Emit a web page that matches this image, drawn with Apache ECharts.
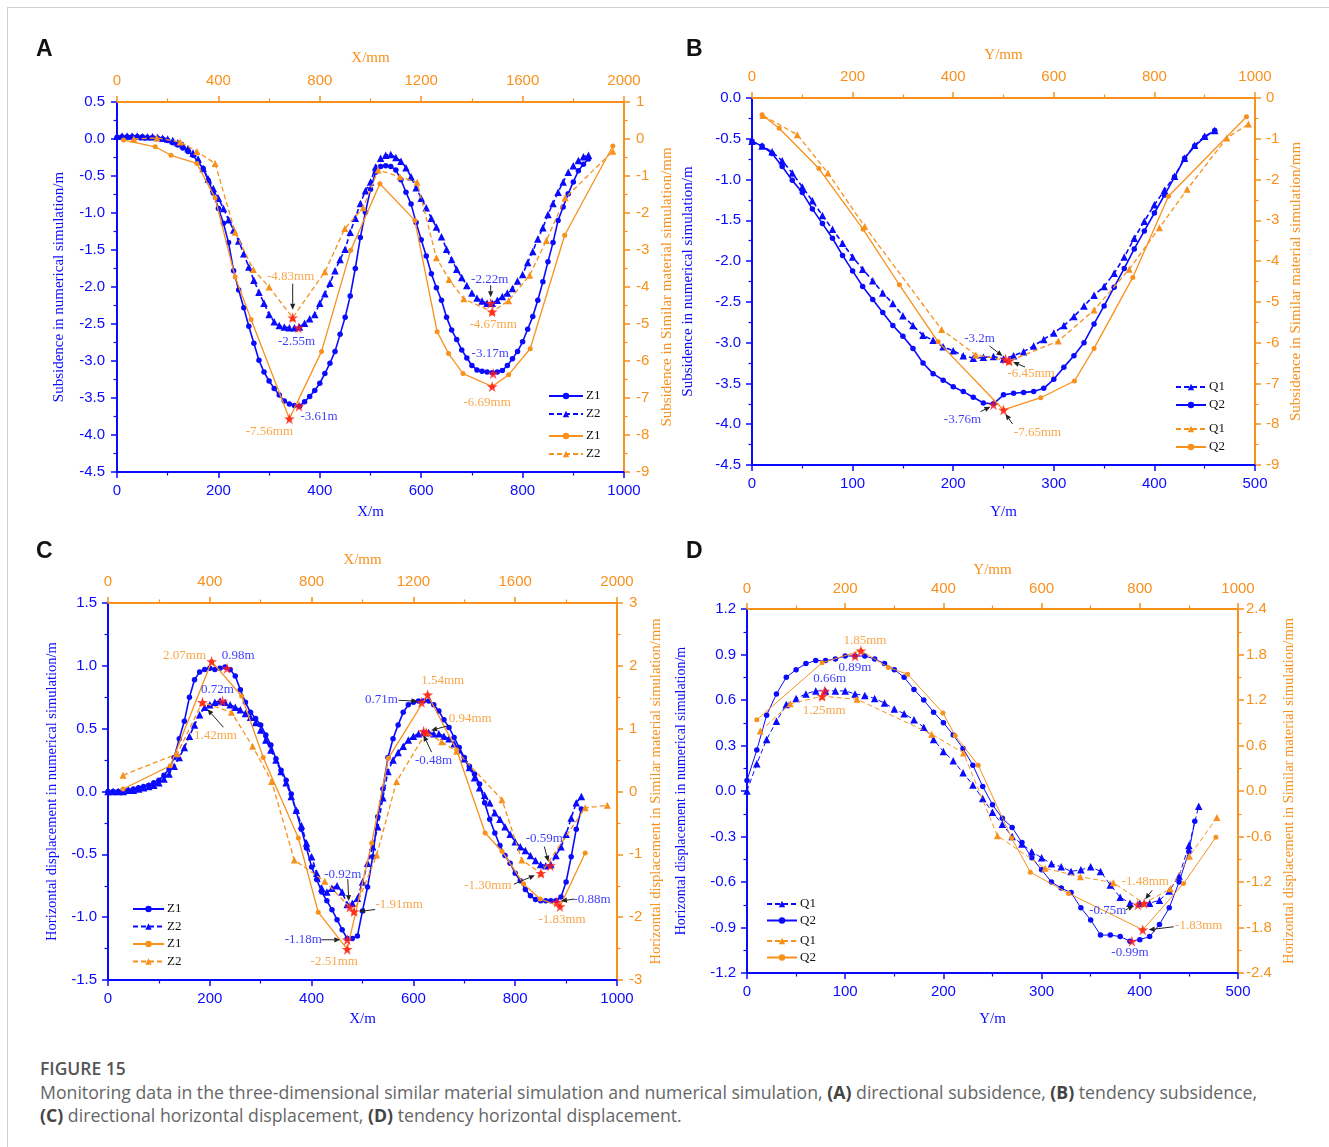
<!DOCTYPE html>
<html><head><meta charset="utf-8">
<script src="https://cdn.jsdelivr.net/npm/echarts@6/dist/echarts.min.js"></script>
<style>
html,body{margin:0;padding:0;background:#fff;}
#frame{position:absolute;left:7px;top:7px;width:1322px;height:1140px;border-top:1px solid #cfcfcf;border-left:1px solid #cfcfcf;z-index:5;pointer-events:none;}
#chart{position:absolute;left:0;top:0;width:1329px;height:1050px;}
#cap{position:absolute;left:40px;top:1057px;font-family:'Open Sans',sans-serif;color:#666;font-size:17.7px;line-height:23px;letter-spacing:0;}
#cap .t{font-weight:600;color:#555;font-size:17.5px;margin-bottom:1px;}
#cap b{font-weight:700;color:#444;}
</style></head><body>
<div id="frame"></div>
<div id="chart"></div>
<div id="cap"><div class="t">FIGURE 15</div>Monitoring data in the three-dimensional similar material simulation and numerical simulation, <b>(A)</b> directional subsidence, <b>(B)</b> tendency subsidence,<br><b>(C)</b> directional horizontal displacement, <b>(D)</b> tendency horizontal displacement.</div>
<script>
// ---------------- DATA ----------------
// Panel A: directional subsidence
const A_num_x = [0,10,20,30,40,50,60,70,80,90,100,110,120,130,140,150,160,170,180,190,200,210,220,230,240,250,260,270,280,290,300,310,320,330,340,350,360,370,380,390,400,410,420,430,440,450,460,470,480,490,500,510,520,530,540,550,560,570,580,590,600,610,620,630,640,650,660,670,680,690,700,710,720,730,740,750,760,770,780,790,800,810,820,830,840,850,860,870,880,890,900,910,920,930];
const A_Z1_num = [0.02,0.03,0.03,0.03,0.03,0.03,0.02,0.02,0.01,0.00,
-0.02,-0.05,-0.08,-0.12,-0.17,-0.22,-0.31,-0.40,-0.56,-0.73,
-0.94,-1.14,-1.40,-1.78,-2.04,-2.28,-2.53,-2.76,-2.99,-3.15,
-3.27,-3.37,-3.46,-3.54,-3.58,-3.60,-3.61,-3.55,-3.48,-3.40,
-3.30,-3.17,-3.03,-2.87,-2.64,-2.41,-2.12,-1.75,-1.33,-0.99,
-0.68,-0.45,-0.37,-0.36,-0.37,-0.42,-0.55,-0.72,-0.88,-1.13,
-1.36,-1.58,-1.82,-2.01,-2.18,-2.41,-2.58,-2.71,-2.85,-2.96,
-3.06,-3.12,-3.14,-3.15,-3.16,-3.15,-3.13,-3.06,-2.97,-2.87,
-2.74,-2.57,-2.40,-2.18,-1.93,-1.66,-1.40,-1.10,-0.92,-0.74,
-0.58,-0.43,-0.34,-0.27];
const A_Z2_num = [0.04,0.04,0.04,0.04,0.04,0.03,0.03,0.03,0.02,0.01,
0.00,-0.02,-0.05,-0.08,-0.13,-0.19,-0.27,-0.40,-0.54,-0.67,
-0.80,-0.94,-1.09,-1.23,-1.38,-1.55,-1.73,-1.91,-2.07,-2.22,
-2.37,-2.47,-2.52,-2.54,-2.55,-2.55,-2.54,-2.49,-2.43,-2.37,
-2.22,-2.09,-1.95,-1.78,-1.63,-1.49,-1.26,-1.07,-0.87,-0.70,
-0.58,-0.38,-0.26,-0.22,-0.21,-0.25,-0.30,-0.39,-0.51,-0.66,
-0.80,-0.93,-1.07,-1.19,-1.32,-1.49,-1.63,-1.76,-1.87,-1.98,
-2.08,-2.15,-2.19,-2.22,-2.22,-2.18,-2.13,-2.08,-2.02,-1.92,
-1.83,-1.67,-1.52,-1.35,-1.20,-1.02,-0.87,-0.72,-0.58,-0.45,
-0.36,-0.29,-0.24,-0.22];
const A_Z1_sim_x = [26,151,213,315,387,466,529,680,807,922,1037,1175,1263,1308,1365,1480,1545,1630,1766,1956];
const A_Z1_sim   = [-0.03,-0.21,-0.44,-0.66,-1.59,-3.73,-4.88,-7.56,-5.74,-3.01,-1.21,-2.20,-5.21,-5.80,-6.34,-6.69,-6.37,-5.67,-2.60,-0.19];
const A_Z2_sim_x = [66,157,249,315,387,466,538,600,693,820,899,971,1030,1116,1184,1260,1310,1368,1480,1545,1628,1694,1768,1956];
const A_Z2_sim   = [0.00,0.03,-0.08,-0.34,-0.66,-2.52,-3.53,-4.00,-4.83,-3.59,-2.42,-1.86,-0.84,-1.02,-1.17,-3.21,-3.80,-4.32,-4.67,-4.37,-3.68,-2.74,-1.59,-0.33];
const A_star_num = [[359,-3.61],[358,-2.55],[742,-3.17],[737,-2.22]];
const A_star_num_text = ['-3.61m','-2.55m','-3.17m','-2.22m'];
const A_star_sim = [[680,-7.56],[693,-4.83],[1480,-6.69],[1480,-4.67]];
const A_star_sim_text = ['-7.56mm','-4.83mm','-6.69mm','-4.67mm'];

// Panel B: tendency subsidence
const B_num_x = [0,10,20,30,40,50,60,70,80,90,100,110,120,130,140,150,160,170,180,190,200,210,220,230,240,250,260,270,280,290,300,310,320,330,340,350,360,370,380,390,400,410,420,430,440,450,460];
const B_Q1_num = [-0.53,-0.59,-0.66,-0.77,-0.92,-1.09,-1.26,-1.44,-1.61,-1.78,
-1.95,-2.10,-2.24,-2.39,-2.52,-2.67,-2.79,-2.91,-2.97,-3.05,
-3.10,-3.16,-3.19,-3.18,-3.17,-3.20,-3.16,-3.11,-3.04,-2.96,
-2.88,-2.79,-2.68,-2.55,-2.42,-2.31,-2.15,-1.95,-1.72,-1.51,
-1.31,-1.13,-0.96,-0.74,-0.58,-0.47,-0.40];
const B_Q2_num = [-0.53,-0.59,-0.68,-0.84,-1.01,-1.16,-1.36,-1.54,-1.72,-1.93,
-2.12,-2.31,-2.47,-2.63,-2.79,-2.92,-3.07,-3.25,-3.38,-3.46,
-3.54,-3.60,-3.67,-3.74,-3.75,-3.64,-3.62,-3.61,-3.60,-3.56,
-3.45,-3.30,-3.16,-3.00,-2.77,-2.55,-2.32,-2.09,-1.85,-1.63,
-1.41,-1.19,-0.97,-0.74,-0.59,-0.48,-0.40];
const B_Q1_sim_x = [22,90,151,224,377,445,511,609,680,750,810,865,944,987];
const B_Q1_sim   = [-0.43,-0.90,-1.84,-3.15,-5.68,-6.30,-6.45,-5.96,-5.20,-4.20,-3.18,-2.24,-0.98,-0.64];
const B_Q2_sim_x = [20,54,133,221,293,370,500,574,641,680,757,828,983];
const B_Q2_sim   = [-0.41,-0.74,-1.73,-3.22,-4.58,-5.98,-7.65,-7.35,-6.94,-6.14,-4.40,-2.41,-0.46];
const B_star_num = [[252,-3.2],[240,-3.76]];
const B_star_num_text = ['-3.2m','-3.76m'];
const B_star_sim = [[511,-6.45],[500,-7.65]];
const B_star_sim_text = ['-6.45mm','-7.65mm'];

// Panel C: directional horizontal displacement
const C_num_x = A_num_x;
const C_Z1_num = [0.00,0.00,0.00,0.01,0.01,0.02,0.03,0.04,0.05,0.07,
0.09,0.13,0.18,0.27,0.42,0.56,0.75,0.89,0.95,0.97,
0.98,0.97,0.98,0.99,0.97,0.92,0.81,0.71,0.63,0.58,
0.53,0.45,0.37,0.26,0.17,0.09,-0.02,-0.16,-0.30,-0.45,
-0.60,-0.70,-0.80,-0.87,-0.94,-1.02,-1.10,-1.17,-1.17,-1.15,
-0.95,-0.76,-0.52,-0.20,0.02,0.27,0.42,0.53,0.63,0.69,
0.71,0.72,0.72,0.72,0.69,0.64,0.57,0.51,0.43,0.35,
0.27,0.20,0.14,0.06,-0.09,-0.22,-0.33,-0.43,-0.51,-0.57,
-0.65,-0.71,-0.78,-0.83,-0.86,-0.87,-0.87,-0.87,-0.87,-0.84,
-0.72,-0.52,-0.30,-0.14];
const C_Z2_num = [0.00,0.00,0.00,0.00,0.01,0.01,0.02,0.03,0.04,0.05,
0.07,0.10,0.14,0.20,0.27,0.35,0.44,0.53,0.61,0.67,
0.69,0.71,0.72,0.71,0.69,0.67,0.65,0.62,0.59,0.55,
0.49,0.41,0.33,0.25,0.16,0.07,-0.04,-0.15,-0.27,-0.41,
-0.52,-0.65,-0.77,-0.80,-0.77,-0.75,-0.80,-0.90,-0.89,-0.85,
-0.72,-0.57,-0.44,-0.28,-0.05,0.16,0.25,0.31,0.36,0.41,
0.44,0.46,0.47,0.47,0.46,0.46,0.44,0.42,0.38,0.33,
0.26,0.19,0.11,0.03,-0.03,-0.09,-0.17,-0.22,-0.28,-0.34,
-0.40,-0.44,-0.47,-0.51,-0.55,-0.58,-0.59,-0.58,-0.51,-0.44,
-0.34,-0.21,-0.09,-0.04];
const C_Z1_sim_x = [59,245,407,525,610,748,826,940,1036,1102,1256,1370,1482,1548,1633,1698,1776,1875];
const C_Z1_sim   = [0.04,0.41,2.07,1.52,0.54,-0.74,-1.92,-2.51,-0.82,0.53,1.54,0.66,-0.66,-0.95,-1.47,-1.71,-1.83,-0.98];
const C_Z2_sim_x = [59,272,371,485,568,643,732,852,967,1056,1134,1250,1311,1370,1548,1626,1701,1875,1962];
const C_Z2_sim   = [0.26,0.60,1.42,1.26,0.72,0.16,-1.09,-1.43,-1.91,-1.01,0.16,0.94,0.79,0.64,-0.13,-1.09,-1.30,-0.26,-0.22];
const C_star_num = [[234,0.98],[225,0.72],[470,-1.18],[475,-0.92],[616,0.71],[620,0.48],[869,-0.59],[882,-0.88]];
const C_star_num_text = ['0.98m','0.72m','-1.18m','-0.92m','0.71m','-0.48m','-0.59m','-0.88m'];
const C_star_sim = [[407,2.07],[371,1.42],[940,-2.51],[967,-1.91],[1256,1.54],[1250,0.94],[1701,-1.30],[1776,-1.83]];
const C_star_sim_text = ['2.07mm','1.42mm','-2.51mm','-1.91mm','1.54mm','0.94mm','-1.30mm','-1.83mm'];

// Panel D: tendency horizontal displacement
const D_Q1_x = B_num_x;
const D_Q1_num = [0.00,0.18,0.34,0.46,0.57,0.61,0.64,0.66,0.66,0.66,
0.66,0.64,0.63,0.61,0.58,0.54,0.51,0.47,0.42,0.34,
0.26,0.20,0.12,0.04,-0.05,-0.14,-0.22,-0.30,-0.35,-0.40,
-0.44,-0.48,-0.50,-0.53,-0.52,-0.50,-0.53,-0.62,-0.70,-0.74,
-0.74,-0.74,-0.72,-0.66,-0.56,-0.36,-0.10];
const D_Q2_x = [0,10,20,30,40,50,60,70,80,90,100,110,120,130,140,150,160,170,180,190,200,210,220,230,240,250,260,270,280,290,300,310,320,330,340,350,360,370,380,390,400,410,420,430,440,450,456];
const D_Q2_num = [0.07,0.27,0.50,0.64,0.75,0.80,0.84,0.86,0.86,0.87,
0.89,0.89,0.89,0.87,0.84,0.80,0.75,0.67,0.60,0.52,
0.45,0.37,0.28,0.17,0.03,-0.09,-0.18,-0.24,-0.34,-0.44,
-0.52,-0.60,-0.64,-0.67,-0.77,-0.85,-0.95,-0.95,-0.96,-0.99,
-0.98,-0.96,-0.88,-0.77,-0.60,-0.40,-0.20];
const D_Q1_sim_x = [27,88,153,224,376,441,510,607,679,746,809,862,901,957];
const D_Q1_sim   = [0.79,1.15,1.25,1.21,0.75,0.50,-0.59,-1.02,-1.13,-1.21,-1.48,-1.29,-0.86,-0.35];
const D_Q2_sim_x = [20,153,232,288,327,399,424,471,539,577,655,806,889,955];
const D_Q2_sim   = [0.94,1.69,1.85,1.63,1.54,1.03,0.73,0.34,-0.62,-1.07,-1.35,-1.83,-1.22,-0.61];
const D_star_num = [[110,0.89],[79,0.66],[398,-0.75],[392,-0.99]];
const D_star_num_text = ['0.89m','0.66m','-0.75m','-0.99m'];
const D_star_sim = [[232,1.85],[153,1.25],[809,-1.48],[806,-1.83]];
const D_star_sim_text = ['1.85mm','1.25mm','-1.48mm','-1.83mm'];

// ---------------- STYLE / LAYOUT ----------------
const BLUE = '#0a0aff', ORANGE = '#f8901c', RED = '#ff1a1a';
const STAR = 'path://M50,0 L61,35 L98,35 L68,57 L79,91 L50,70 L21,91 L32,57 L2,35 L39,35 Z';
const SERIF = 'Liberation Serif', SANS = 'Liberation Sans';
const f1 = v => v.toFixed(1), f0 = v => String(Math.round(v));

const panels = [
  { grid:{left:117, top:102, width:507, height:370},
    xb:{min:0,max:1000,step:200,name:'X/m',gap:33,margin:11,fmt:f0},
    xt:{min:0,max:2000,step:400,name:'X/mm',gap:36,margin:14,fmt:f0},
    yl:{min:-4.5,max:0.5,step:0.5,name:'Subsidence in numerical simulation/m',gap:50,margin:12,fmt:f1,nfs:15},
    yr:{min:-9,max:1,step:1,name:'Subsidence in Similar material simulation/mm',gap:36,margin:12,fmt:f0,nfs:15},
    letter:{t:'A',x:36,y:38},
    legend:{left:548, topB:389, topO:429, w:34, gap:4} },
  { grid:{left:752, top:98, width:503, height:367},
    xb:{min:0,max:500,step:100,name:'Y/m',gap:40,margin:11,fmt:f0},
    xt:{min:0,max:1000,step:200,name:'Y/mm',gap:35,margin:14,fmt:f0},
    yl:{min:-4.5,max:0,step:0.5,name:'Subsidence in numerical simulation/m',gap:56,margin:11,fmt:f1,nfs:15},
    yr:{min:-9,max:0,step:1,name:'Subsidence in Similar material simulation/mm',gap:34,margin:11,fmt:f0,nfs:15},
    letter:{t:'B',x:686,y:38},
    legend:{left:1175, topB:380, topO:422, w:30, gap:4} },
  { grid:{left:108, top:603, width:509, height:377},
    xb:{min:0,max:1000,step:200,name:'X/m',gap:32,margin:11,fmt:f0},
    xt:{min:0,max:2000,step:400,name:'X/mm',gap:35,margin:14,fmt:f0},
    yl:{min:-1.5,max:1.5,step:0.5,name:'Horizontal displacement in numerical simulation/m',gap:48,margin:11,fmt:f1,nfs:14.5},
    yr:{min:-3,max:3,step:1,name:'Horizontal displacement in Similar material simulation/mm',gap:32,margin:12,fmt:f0,nfs:14.5},
    letter:{t:'C',x:36,y:540},
    legend:{left:132, topB:902, topO:937, w:31, gap:3.5} },
  { grid:{left:747, top:609, width:491, height:364},
    xb:{min:0,max:500,step:100,name:'Y/m',gap:39,margin:11,fmt:f0},
    xt:{min:0,max:1000,step:200,name:'Y/mm',gap:31,margin:13,fmt:f0},
    yl:{min:-1.2,max:1.2,step:0.3,name:'Horizontal displacement in numerical simulation/m',gap:59,margin:11,fmt:f1,nfs:14},
    yr:{min:-2.4,max:2.4,step:0.6,name:'Horizontal displacement in Similar material simulation/mm',gap:44,margin:8,fmt:f1,nfs:14.5},
    letter:{t:'D',x:686,y:540},
    legend:{left:766, topB:897, topO:934, w:30, gap:2.5} }
];

// label offsets / arrows (pixels relative to star) — styling only
const annStyle = {
  A_num:[{o:[20,10]},{o:[-2,14]},{o:[-3,-20]},{o:[-1,-24],a:[0,-18,0,-6]}],
  A_sim:[{o:[-20,13]},{o:[-2,-41],a:[0,-34,0,-8]},{o:[-5,16]},{o:[1,13]}],
  B_num:[{o:[-26,-20],a:[-16,-13,-3,-3]},{o:[-31,15],a:[-13,7,-3,2]}],
  B_sim:[{o:[22,13],a:[16,6,4,1]},{o:[34,23],a:[9,14,2,4]}],
  C_num:[{o:[11,-13]},{o:[-5,-11]},{o:[-44,0],a:[-26,0,-7,0]},{o:[-7,-33],a:[-2,-28,-1,-6]},
         {o:[-40,-3],a:[-23,-2,-4,-1]},{o:[10,29],a:[8,21,0,4]},{o:[-6,-27],a:[-6,-19,-2,-4]},{o:[35,-3],a:[17,-3,4,-1]}],
  C_sim:[{o:[-27,-6]},{o:[13,33],a:[21,25,5,7]},{o:[-13,12]},{o:[45,-7],a:[21,-2,5,0]},
         {o:[15,-14]},{o:[44,-14],a:[23,-7,5,-2]},{o:[-53,12],a:[-27,11,-6,2]},{o:[2,13]}],
  D_num:[{o:[0,12]},{o:[5,-12]},{o:[-30,6],a:[-12,5,-4,1]},{o:[-2,11]}],
  D_sim:[{o:[4,-10]},{o:[2,14]},{o:[1,-22],a:[8,-13,1,-4]},{o:[56,-4],a:[31,-3,6,0]}]
};

// ---------------- BUILD ----------------
const zip = (xs, ys) => xs.map((x, i) => [x, ys[i]]);
function axis(kind, pos, gi, c, color) {
  return {
    type:'value', gridIndex:gi, position:pos, min:c.min, max:c.max, interval:c.step,
    name:c.name, nameLocation:'middle', nameGap:c.gap, nameRotate: kind === 'y' ? 90 : 0,
    nameTextStyle:{color:color, fontFamily:SERIF, fontSize:c.nfs || 15},
    axisLine:{show:true, onZero:false, lineStyle:{color:color, width:2}},
    axisTick:{show:true, inside:false, length:6, lineStyle:{color:color, width:1.5}},
    minorTick:{show:true, splitNumber:2, length:3.5, lineStyle:{color:color, width:1.2}},
    axisLabel:{show:true, color:color, fontFamily:SANS, fontSize:15, margin:c.margin, formatter:c.fmt},
    splitLine:{show:false}, minorSplitLine:{show:false}
  };
}
const grid = [], xAxis = [], yAxis = [];
panels.forEach((p, i) => {
  grid.push(Object.assign({containLabel:false}, p.grid));
  xAxis.push(axis('x', 'bottom', i, p.xb, BLUE));
  xAxis.push(axis('x', 'top', i, p.xt, ORANGE));
  yAxis.push(axis('y', 'left', i, p.yl, BLUE));
  yAxis.push(axis('y', 'right', i, p.yr, ORANGE));
});

const displayName = {};
const series = [];
function lineSeries(id, label, panel, side, xs, ys, dashed, thin) {
  displayName[id] = label;
  const color = side === 0 ? BLUE : ORANGE;
  const circle = !dashed;
  series.push({
    type:'line', name:id, xAxisIndex:panel*2+side, yAxisIndex:panel*2+side,
    data:zip(xs, ys), symbol: circle ? 'circle' : 'triangle',
    symbolSize: circle ? (side === 0 ? 5.5 : 5) : (side === 0 ? 7.5 : 7),
    showSymbol:true, smooth:false, animation:false, z: side === 0 ? 3 : 4,
    lineStyle:{color:color, width: thin ? 1 : (side === 0 ? 1.6 : 1.3), type: dashed ? [5,3] : 'solid'},
    itemStyle:{color:color, borderWidth:0}, emphasis:{disabled:true}
  });
}
function starSeries(panel, side, pts, texts, styles) {
  const color = side === 0 ? BLUE : ORANGE;
  series.push({
    type:'scatter', xAxisIndex:panel*2+side, yAxisIndex:panel*2+side,
    symbol:STAR, symbolSize:11, z:6, animation:false, silent:true,
    itemStyle:{color:RED},
    label:{show:true, position:'inside', color:color, fontFamily:SERIF, fontSize:13},
    data: pts.map((pt, i) => ({value:pt, label:{formatter:texts[i], offset:styles[i].o}}))
  });
}

// A
lineSeries('A_Z1n','Z1',0,0,A_num_x,A_Z1_num,false);
lineSeries('A_Z2n','Z2',0,0,A_num_x,A_Z2_num,true);
lineSeries('A_Z1s','Z1',0,1,A_Z1_sim_x,A_Z1_sim,false);
lineSeries('A_Z2s','Z2',0,1,A_Z2_sim_x,A_Z2_sim,true);
// B
lineSeries('B_Q1n','Q1',1,0,B_num_x,B_Q1_num,true);
lineSeries('B_Q2n','Q2',1,0,B_num_x,B_Q2_num,false);
lineSeries('B_Q1s','Q1',1,1,B_Q1_sim_x,B_Q1_sim,true);
lineSeries('B_Q2s','Q2',1,1,B_Q2_sim_x,B_Q2_sim,false);
// C
lineSeries('C_Z1n','Z1',2,0,C_num_x,C_Z1_num,false);
lineSeries('C_Z2n','Z2',2,0,C_num_x,C_Z2_num,true);
lineSeries('C_Z1s','Z1',2,1,C_Z1_sim_x,C_Z1_sim,false);
lineSeries('C_Z2s','Z2',2,1,C_Z2_sim_x,C_Z2_sim,true);
// D
lineSeries('D_Q1n','Q1',3,0,D_Q1_x,D_Q1_num,true,true);
lineSeries('D_Q2n','Q2',3,0,D_Q2_x,D_Q2_num,false,true);
lineSeries('D_Q1s','Q1',3,1,D_Q1_sim_x,D_Q1_sim,true,true);
lineSeries('D_Q2s','Q2',3,1,D_Q2_sim_x,D_Q2_sim,false,true);

const starDefs = [
  [0,0,A_star_num,A_star_num_text,annStyle.A_num],[0,1,A_star_sim,A_star_sim_text,annStyle.A_sim],
  [1,0,B_star_num,B_star_num_text,annStyle.B_num],[1,1,B_star_sim,B_star_sim_text,annStyle.B_sim],
  [2,0,C_star_num,C_star_num_text,annStyle.C_num],[2,1,C_star_sim,C_star_sim_text,annStyle.C_sim],
  [3,0,D_star_num,D_star_num_text,annStyle.D_num],[3,1,D_star_sim,D_star_sim_text,annStyle.D_sim]
];
starDefs.forEach(d => starSeries(d[0], d[1], d[2], d[3], d[4]));

const legend = [];
const legendIds = [['A_Z1n','A_Z2n'],['A_Z1s','A_Z2s'],['B_Q1n','B_Q2n'],['B_Q1s','B_Q2s'],
                   ['C_Z1n','C_Z2n'],['C_Z1s','C_Z2s'],['D_Q1n','D_Q2n'],['D_Q1s','D_Q2s']];
panels.forEach((p, i) => {
  [0,1].forEach(s => {
    legend.push({
      orient:'vertical', left:p.legend.left, top: s === 0 ? p.legend.topB : p.legend.topO,
      padding:0, itemGap:p.legend.gap, itemWidth:p.legend.w, itemHeight:8,
      selectedMode:false, data:legendIds[i*2+s],
      formatter: n => displayName[n],
      textStyle:{color:'#111', fontFamily:SERIF, fontSize:13, lineHeight:14, padding:[0,0,0,-2]}
    });
  });
});

const chart = echarts.init(document.getElementById('chart'), null, {renderer:'canvas'});
chart.setOption({ backgroundColor:'transparent', animation:false, grid, xAxis, yAxis, series, legend });

// panel letters + arrows
const elements = panels.map(p => ({
  type:'text', left:p.letter.x, top:p.letter.y,
  style:{text:p.letter.t, font:'bold 23px "Liberation Sans"', fill:'#111'}
}));
starDefs.forEach(d => {
  const [panel, side, pts, , styles] = d;
  pts.forEach((pt, i) => {
    const a = styles[i].a; if (!a) return;
    const c = chart.convertToPixel({xAxisIndex:panel*2+side, yAxisIndex:panel*2+side}, pt);
    const x1 = c[0]+a[0], y1 = c[1]+a[1], x2 = c[0]+a[2], y2 = c[1]+a[3];
    const ang = Math.atan2(y2-y1, x2-x1), L = 6, W = 2.6;
    const bx = x2 - Math.cos(ang)*L, by = y2 - Math.sin(ang)*L;
    elements.push({type:'line', silent:true, z:10, shape:{x1:x1,y1:y1,x2:bx,y2:by}, style:{stroke:'#222', lineWidth:1}});
    elements.push({type:'polygon', silent:true, z:10, shape:{points:[[x2,y2],[bx-Math.sin(ang)*W, by+Math.cos(ang)*W],[bx+Math.sin(ang)*W, by-Math.cos(ang)*W]]}, style:{fill:'#222'}});
  });
});
chart.setOption({graphic:{elements:elements}});
</script>
</body></html>
